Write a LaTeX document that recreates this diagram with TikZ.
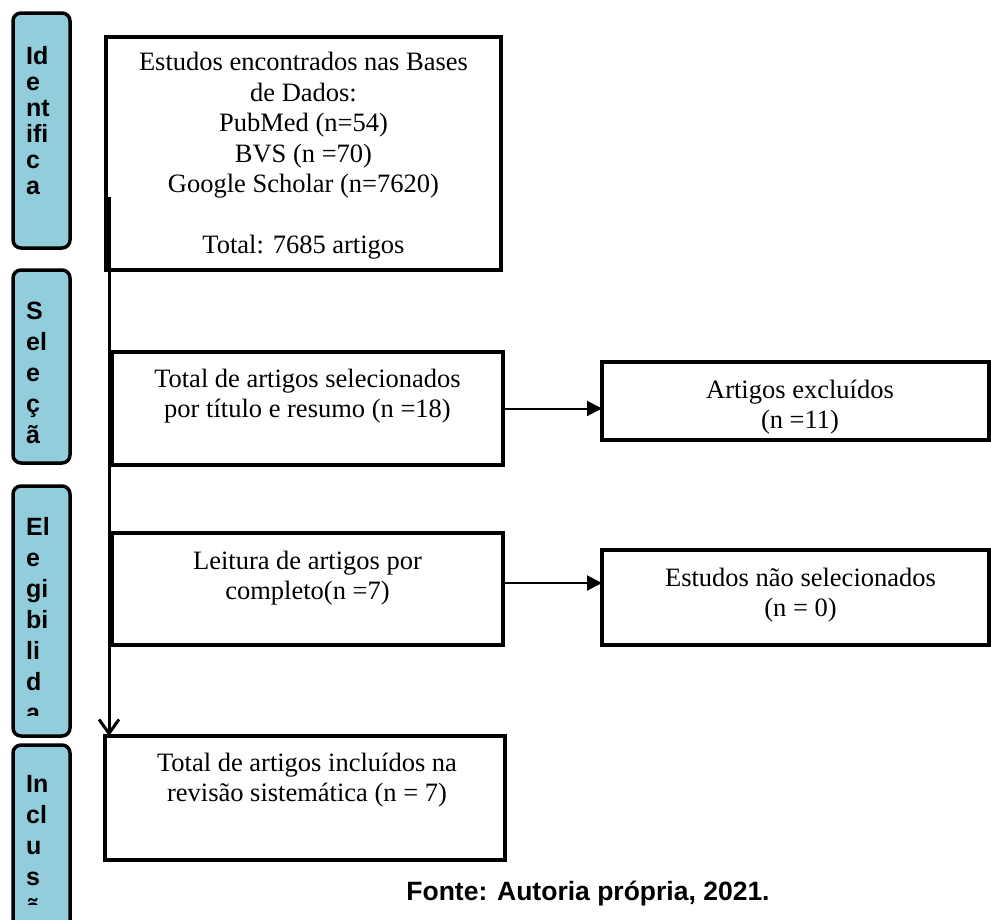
\documentclass[tikz,border=0pt]{standalone}
\usepackage{fontspec}
\setmainfont{Liberation Serif}
\newfontfamily\arialfont{Liberation Sans}
\usetikzlibrary{arrows.meta,positioning}
\definecolor{etapa}{RGB}{146,205,220}

\begin{document}
\begin{tikzpicture}[x=1pt,y=-1pt,
        caixa/.style={draw=black, line width=4.5pt, inner sep=0pt, outer sep=0pt, anchor=north west},
        aba/.style={draw=black, fill=etapa, line width=3.5pt, rounded corners=8pt, inner sep=0pt, outer sep=0pt, anchor=north west, minimum width=57pt},
        texto/.style={align=center, inner sep=0pt, font=\fontsize{26.5}{30}\selectfont},
        letras/.style={align=left, inner sep=0pt, anchor=north west, font=\arialfont\bfseries\fontsize{25}{31}\selectfont},
        seta/.style={line width=2pt, -{Triangle[length=15pt,width=15pt]}},
        eixo/.style={line width=3pt, -{Straight Barb[length=14pt,width=20pt]}}]
        \useasboundingbox (0,0) rectangle (991,919);

        \node[aba, minimum height=235pt] (identif) at (13,13) {};
        \node[aba, minimum height=193pt] (selec) at (13,270) {};
        \node[aba, minimum height=250pt] (elegi) at (13,486) {};
        \node[aba, minimum height=195pt] (inclu) at (13,745) {};

        \node[letras, font=\arialfont\bfseries\fontsize{25}{26}\selectfont] (identiftxt) at (26,46) {Id\\e\\nt\\ifi\\c\\a};
        \node[letras] (selectxt) at (26,302) {S\\el\\e\\ç\\ã};
        \begin{scope}
            \clip (13,486) rectangle (70,715);
            \node[letras] (elegitxt) at (26,517) {El\\e\\gi\\bi\\li\\d\\a};
        \end{scope}
        \begin{scope}
            \clip (13,745) rectangle (70,904);
            \node[letras] (inclutxt) at (26,775) {In\\cl\\u\\s\\ã};
        \end{scope}

        \node[caixa, minimum width=395pt, minimum height=233pt] (busca) at (106,37) {};
        \node[caixa, minimum width=391pt, minimum height=113pt] (selecao) at (112,352) {};
        \node[caixa, minimum width=391pt, minimum height=112pt] (leitura) at (112,533) {};
        \node[caixa, minimum width=400pt, minimum height=124pt] (inclusao) at (105,736) {};
        \node[caixa, minimum width=387pt, minimum height=78pt] (excluidos) at (602,362) {};
        \node[caixa, minimum width=387pt, minimum height=95pt] (naosel) at (602,550) {};

        \node[texto, font=\fontsize{26.5}{30.5}\selectfont, below=15pt of busca.north] (buscatxt) {Estudos encontrados nas Bases\\de Dados:\\PubMed (n=54)\\BVS (n =70)\\Google Scholar (n=7620)\\[30.5pt]Total: 7685 artigos};
        \node[texto, below=17pt of selecao.north] (selecaotxt) {Total de artigos selecionados\\por título e resumo (n =18)};
        \node[texto, below=18pt of leitura.north] (leituratxt) {Leitura de artigos por\\completo(n =7)};
        \node[texto, below=17pt of inclusao.north, xshift=2pt] (inclusaotxt) {Total de artigos incluídos na\\revisão sistemática (n = 7)};
        \begin{scope}
            \clip (excluidos.north west) rectangle ([yshift=2.5pt]excluidos.south east);
            \node[texto, below=18pt of excluidos.north, xshift=4.5pt] (excluidostxt) {Artigos excluídos\\(n =11)};
        \end{scope}
        \node[texto, below=18pt of naosel.north, xshift=5pt] (naoseltxt) {Estudos não selecionados\\(n = 0)};

        \node[inner sep=0pt, font=\arialfont\bfseries\fontsize{26.5}{30}\selectfont] (fonte) at (588,894) {Fonte: Autoria própria, 2021.};

        \coordinate (tronco) at (109,197);
        \draw[eixo] (tronco) -- (tronco |- inclusao.north);
        \draw[seta] (selecao.east) -- (selecao.east -| excluidos.west);
        \draw[seta] ([yshift=6pt]leitura.east) -- ([yshift=6pt]leitura.east -| naosel.west);
    \end{tikzpicture}
\end{document}
